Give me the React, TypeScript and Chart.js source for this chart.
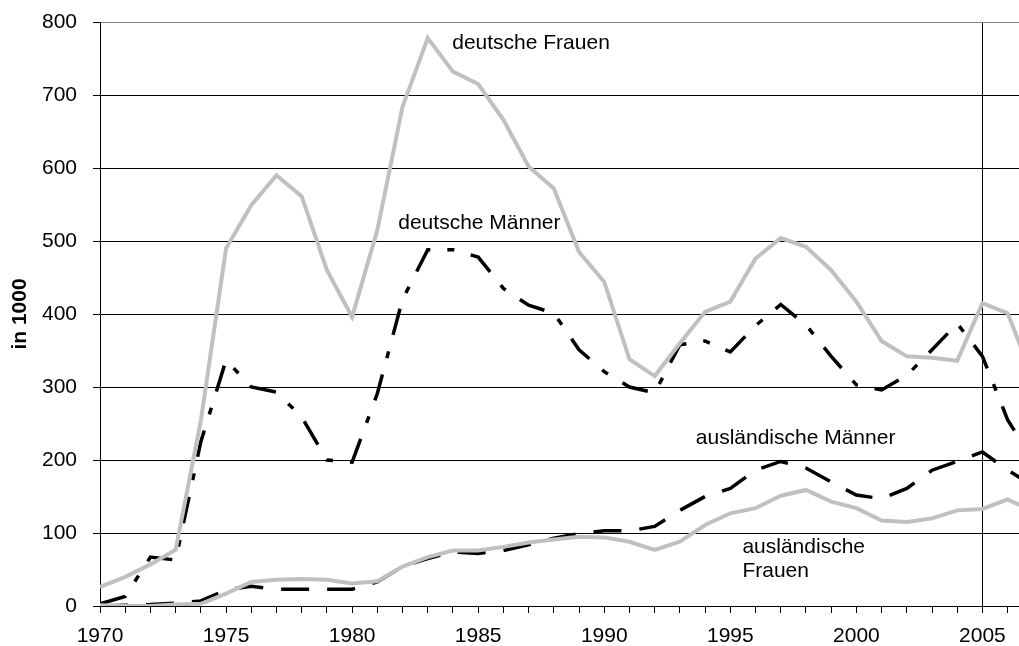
import React, { useEffect, useRef } from "react";
import { Chart, registerables } from "chart.js";

Chart.register(...registerables);

const years: number[] = [];
for (let y = 1970; y <= 2007; y++) years.push(y);

const deutscheFrauen = [26, 40, 57, 77, 254, 490, 549, 590, 561, 460, 396, 515, 684, 778, 732, 715, 666, 602, 572, 485, 444, 338, 315, 360, 403, 417, 476, 504, 492, 460, 417, 363, 342, 340, 336, 415, 401, 313];
const deutscheMaenner = [3, 13, 67, 63, 225, 337, 300, 293, 259, 200, 197, 291, 420, 488, 488, 478, 435, 412, 401, 351, 321, 300, 292, 358, 363, 348, 384, 413, 385, 342, 303, 296, 316, 351, 387, 342, 255, 200];
const auslMaenner = [0, 1, 2, 4, 7, 22, 27, 23, 23, 23, 23, 33, 54, 65, 74, 72, 76, 84, 93, 99, 103, 103, 109, 131, 150, 161, 186, 198, 189, 170, 152, 147, 161, 186, 198, 211, 186, 165];
const auslFrauen = [1, 0, 0, 2, 3, 17, 33, 36, 37, 36, 31, 34, 54, 67, 76, 76, 81, 87, 91, 95, 94, 88, 77, 88, 111, 127, 134, 151, 159, 143, 134, 117, 115, 120, 131, 133, 146, 130];

const seriesLabels = ["deutsche Frauen", "deutsche Männer", "ausländische Männer", "ausländische Frauen"];

// text annotations anchored at data coordinates (year, value)
const annotTexts = ["deutsche Frauen", "deutsche Männer", "ausländische Männer", "ausländische", "Frauen"];
const annotYears = [1983.97, 1981.83, 1993.63, 1995.48, 1995.48];
const annotValues = [771, 525, 230, 81, 47];

const FONT = "'Liberation Sans', Arial, sans-serif";
const GRAY = "#c0c0c0";

const toXY = (vals: number[]) => vals.map((v, i) => ({ x: years[i], y: v }));

const annotationPlugin = {
  id: "annotTexts",
  afterDatasetsDraw(chart: any) {
    const { ctx, scales } = chart;
    ctx.save();
    ctx.font = `21px ${FONT}`;
    ctx.fillStyle = "#000";
    ctx.textAlign = "left";
    ctx.textBaseline = "middle";
    annotTexts.forEach((t, i) => {
      ctx.fillText(t, scales.x.getPixelForValue(annotYears[i]), scales.y.getPixelForValue(annotValues[i]));
    });
    ctx.restore();
  },
};

export default function App() {
  const ref = useRef<HTMLCanvasElement | null>(null);
  useEffect(() => {
    if (!ref.current) return;
    const chart = new Chart(ref.current, {
      type: "line",
      data: {
        datasets: [
          { label: seriesLabels[0], data: toXY(deutscheFrauen), borderColor: GRAY, borderWidth: 4, pointRadius: 0, tension: 0 },
          { label: seriesLabels[3], data: toXY(auslFrauen), borderColor: GRAY, borderWidth: 4, pointRadius: 0, tension: 0 },
          { label: seriesLabels[1], data: toXY(deutscheMaenner), borderColor: "#000", borderWidth: 3.5, borderDash: [27, 17, 7, 17], borderCapStyle: "butt", pointRadius: 0, tension: 0 },
          { label: seriesLabels[2], data: toXY(auslMaenner), borderColor: "#000", borderWidth: 3.5, borderDash: [28, 18], borderCapStyle: "butt", pointRadius: 0, tension: 0 },
        ],
      },
      options: {
        responsive: false,
        animation: false,
        layout: { padding: { top: 22, right: 0, bottom: 0, left: 0 } },
        plugins: { legend: { display: false }, tooltip: { enabled: false } },
        scales: {
          x: {
            type: "linear",
            min: 1970,
            max: 2006.45,
            afterFit: (s: any) => { s.height = 40; s.paddingLeft = 0; s.paddingRight = 0; },
            ticks: {
              stepSize: 1,
              autoSkip: false,
              includeBounds: false,
              maxRotation: 0,
              padding: 11,
              color: "#000",
              font: { family: FONT, size: 21 },
              callback: (v: any) => (Number(v) % 5 === 0 ? String(v) : ""),
            },
            grid: {
              drawOnChartArea: true,
              color: (c: any) => (c.tick && c.tick.value === 2005 ? "#000" : "rgba(0,0,0,0)"),
              tickColor: "#000",
              tickLength: 7,
              lineWidth: 1,
            },
            border: { display: true, color: "#000", width: 1 },
          },
          y: {
            min: 0,
            max: 800,
            afterFit: (s: any) => { s.width = 100; s.paddingTop = 0; s.paddingBottom = 0; },
            ticks: {
              stepSize: 100,
              padding: 16,
              color: "#000",
              font: { family: FONT, size: 21 },
            },
            grid: {
              color: (c: any) => (c.tick && c.tick.value === 800 ? "#808080" : "#000"),
              tickColor: "#000",
              tickLength: 7,
              lineWidth: 1,
            },
            border: { display: true, color: "#000", width: 1 },
            title: {
              display: true,
              text: "in 1000",
              color: "#000",
              font: { family: FONT, size: 21, weight: "bold" },
              padding: { top: 8, bottom: 0 },
            },
          },
        },
      },
      plugins: [annotationPlugin],
    });
    return () => chart.destroy();
  }, []);
  return (
    <div style={{ position: "absolute", left: 0, top: 0, width: 1019, height: 646, background: "#fff" }}>
      <canvas ref={ref} width={1019} height={646} style={{ display: "block" }} />
    </div>
  );
}
